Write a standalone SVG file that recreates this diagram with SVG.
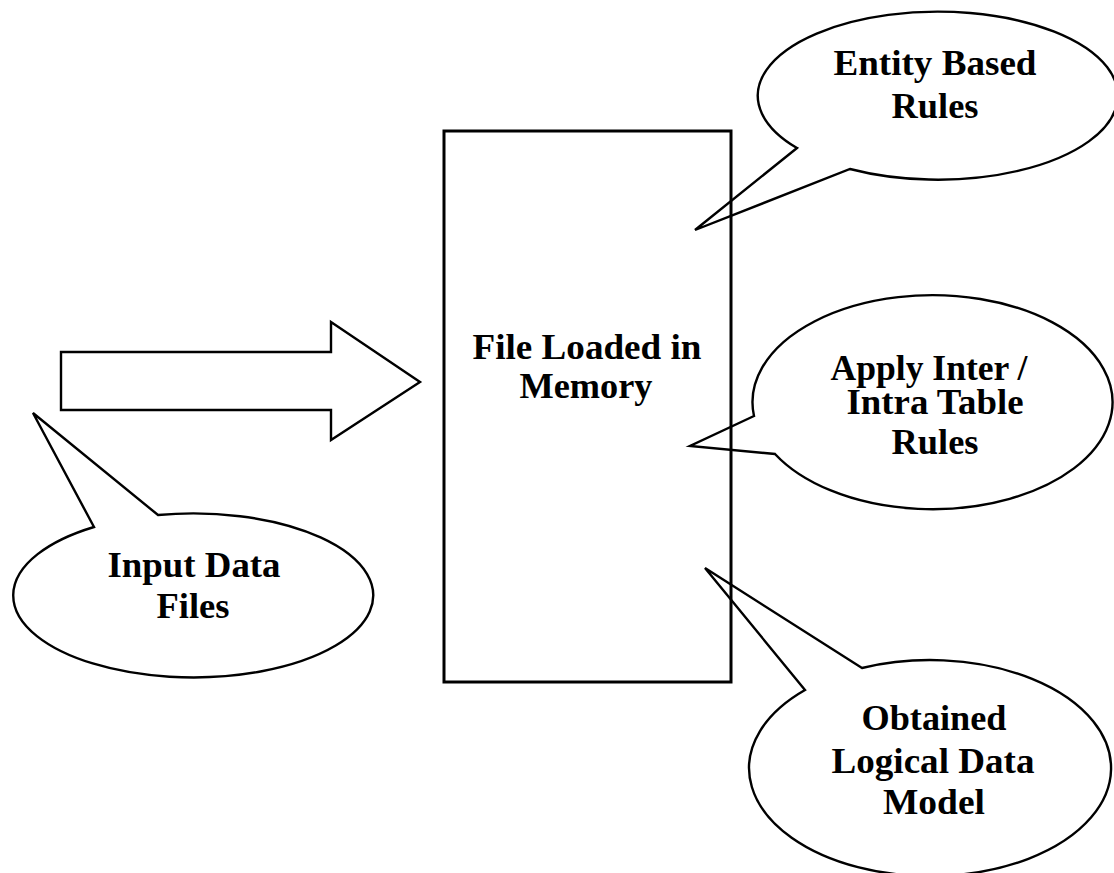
<svg xmlns="http://www.w3.org/2000/svg" width="1114" height="873" viewBox="0 0 1114 873">
  <style>
    .outline { fill: none; stroke: #000; stroke-width: 2.4; stroke-linejoin: miter; }
    .box { fill: none; stroke: #000; stroke-width: 3; }
    .label { font-family: "Liberation Serif", "Times New Roman", serif; font-weight: bold; font-size: 35px; fill: #000; text-anchor: middle; }
  </style>
  <rect width="1114" height="873" fill="#fff"/>

  <!-- callout: entity based rules -->
  <g id="entity-rules">
    <path class="outline" d="M797,148 L695,230 L850,169 A180 84 0 1 0 797,148 Z"/>
    <text class="label" x="935" y="75" textLength="203" lengthAdjust="spacingAndGlyphs">Entity Based</text>
    <text class="label" x="935" y="118" textLength="87" lengthAdjust="spacingAndGlyphs">Rules</text>
  </g>

  <!-- callout: inter / intra table rules -->
  <g id="table-rules">
    <path class="outline" d="M754,416 L690,446 L775,454 A180 107 0 1 0 754,416 Z"/>
    <text class="label" x="929" y="380" textLength="197" lengthAdjust="spacingAndGlyphs">Apply Inter /</text>
    <text class="label" x="935" y="414" textLength="177" lengthAdjust="spacingAndGlyphs">Intra Table</text>
    <text class="label" x="935" y="454" textLength="87" lengthAdjust="spacingAndGlyphs">Rules</text>
  </g>

  <!-- callout: resulting logical data model -->
  <g id="logical-model">
    <path class="outline" d="M805,690 L705,568 L862,668 A181 108 0 1 1 805,690 Z"/>
    <text class="label" x="934" y="730" textLength="145" lengthAdjust="spacingAndGlyphs">Obtained</text>
    <text class="label" x="933" y="773" textLength="203" lengthAdjust="spacingAndGlyphs">Logical Data</text>
    <text class="label" x="934" y="814" textLength="102" lengthAdjust="spacingAndGlyphs">Model</text>
  </g>

  <!-- callout: input data files -->
  <g id="input-files">
    <path class="outline" d="M94,527 L33,413 L158,515 A180 82 0 1 1 94,527 Z"/>
    <text class="label" x="194" y="577" textLength="173" lengthAdjust="spacingAndGlyphs">Input Data</text>
    <text class="label" x="193" y="618" textLength="73" lengthAdjust="spacingAndGlyphs">Files</text>
  </g>

  <!-- in-memory file block -->
  <g id="memory">
    <rect class="box" x="444" y="131" width="287" height="551"/>
    <text class="label" x="587" y="359" textLength="229" lengthAdjust="spacingAndGlyphs">File Loaded in</text>
    <text class="label" x="586" y="398" textLength="133" lengthAdjust="spacingAndGlyphs">Memory</text>
  </g>

  <!-- block arrow feeding the files into memory -->
  <g id="connectors">
    <path class="outline" d="M61,352 L331,352 L331,322 L420,382 L331,440 L331,410 L61,410 Z"/>
  </g>
</svg>
